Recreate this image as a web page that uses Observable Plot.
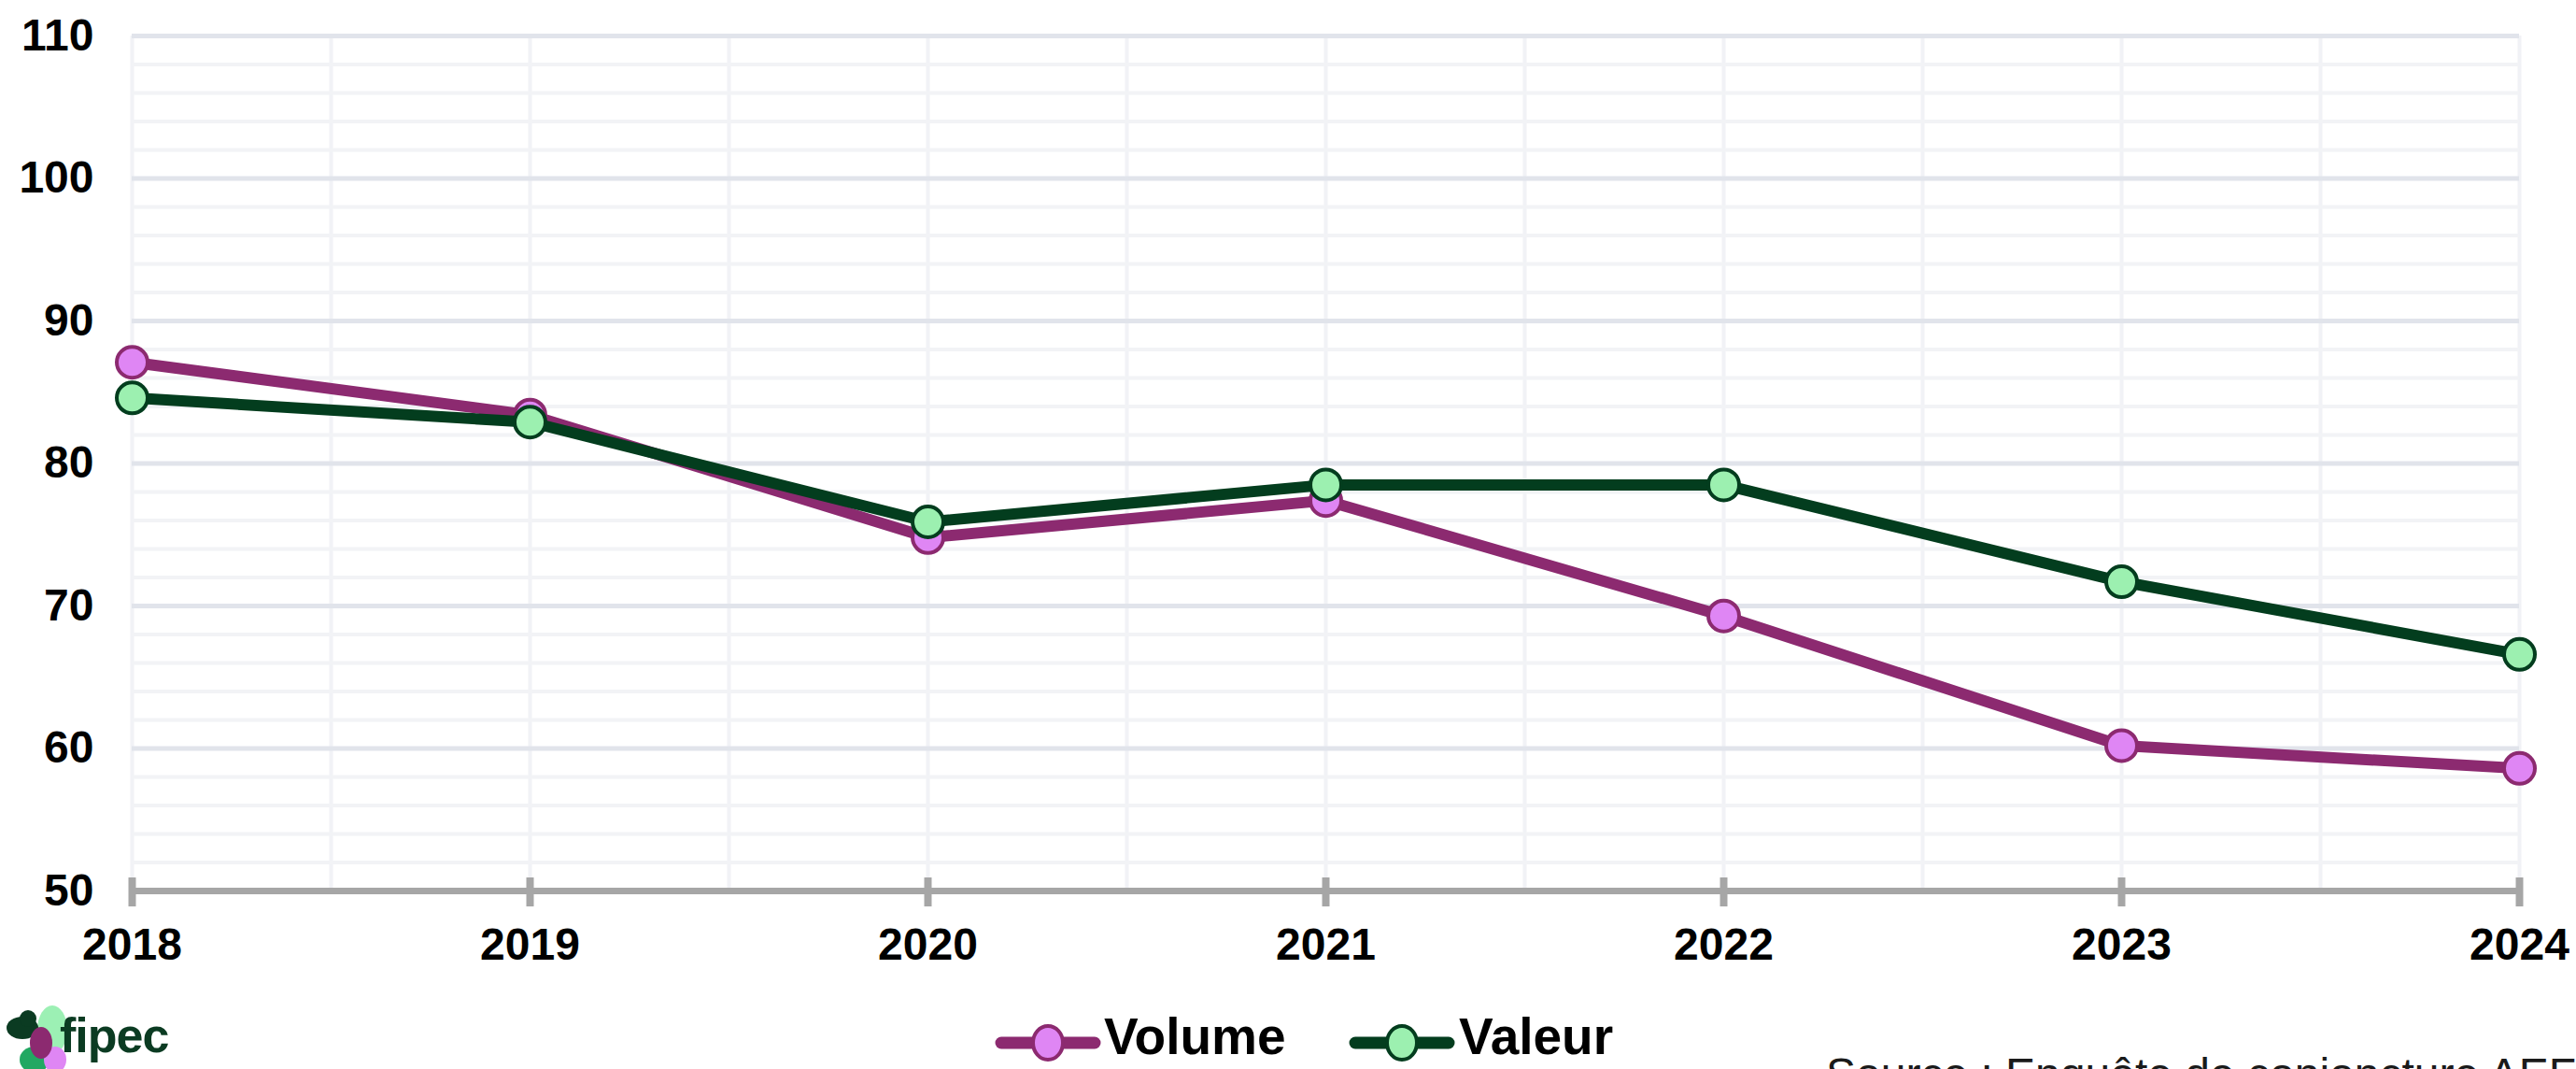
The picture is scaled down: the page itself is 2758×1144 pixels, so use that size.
<!DOCTYPE html>
<html>
<head>
<meta charset="utf-8">
<script src="https://cdn.jsdelivr.net/npm/d3@7"></script>
<script src="https://cdn.jsdelivr.net/npm/@observablehq/plot@0.6"></script>
<style>
  html, body { margin: 0; padding: 0; background: #fff; overflow: hidden; }
  body { width: 2758px; height: 1144px; position: relative; font-family: "Liberation Sans", Arial, sans-serif; }
  #chart svg { display: block; }
  #bottom { position: absolute; left: 0; top: 1060px; width: 2758px; height: 84px; overflow: hidden; }
  .leg { position: absolute; top: 24px; font-size: 55px; line-height: 50px; font-weight: bold; color: #000; white-space: nowrap; }
  .sw { position: absolute; top: 36px; }
  #source { position: absolute; left: 1955px; top: 66px; font-size: 48px; line-height: 48px; color: #1a1a1a; white-space: nowrap; }
  #logo { position: absolute; left: 0; top: 0; }
  #logotext { position: absolute; left: 64px; top: 22px; font-size: 52px; line-height: 52px; font-weight: bold; color: #0b3b22; letter-spacing: -1px; }
</style>
</head>
<body>
<div id="chart"></div>
<div id="bottom"></div>
<script>
// ---- data ----
const years = [2018, 2019, 2020, 2021, 2022, 2023, 2024];
const volume = [87.1, 83.4, 74.8, 77.4, 69.3, 60.2, 58.6];
const valeur = [84.6, 82.9, 75.9, 78.5, 78.5, 71.7, 66.6];
const seriesNames = ["Volume", "Valeur"];
const yTicks = [50, 60, 70, 80, 90, 100, 110];

const colors = {
  Volume: { stroke: "#8c2a70", fill: "#df86f4" },
  Valeur: { stroke: "#033d1e", fill: "#9cf0b0" }
};

const rows = [];
years.forEach((yr, i) => {
  rows.push({ year: yr, series: "Volume", value: volume[i] });
  rows.push({ year: yr, series: "Valeur", value: valeur[i] });
});

const yMin = yTicks[0], yMax = yTicks[yTicks.length - 1];
const minorY = d3.range(yMin, yMax + 0.001, 2).filter(v => !yTicks.includes(v));
const majorY = yTicks.filter(v => v !== yMin);
const gridX = d3.range(years[0], years[years.length - 1] + 0.001, 0.5);

const marks = [
  Plot.ruleX(gridX, { stroke: "#f1f2f6", strokeWidth: 4 }),
  Plot.ruleY(minorY, { stroke: "#f2f3f6", strokeWidth: 4 }),
  Plot.ruleY(majorY, { stroke: "#e1e4eb", strokeWidth: 5 }),
  Plot.ruleY([yMin], { stroke: "#a6a6a6", strokeWidth: 7 }),
  Plot.axisX({ ticks: years, tickSize: 31, dy: -14, stroke: "#a6a6a6", strokeWidth: 8, tickFormat: () => "", label: null }),
  Plot.axisX({ ticks: years, tickSize: 0, tickPadding: 39, tickFormat: d => String(d), fontSize: 48, fontWeight: "bold", fill: "#000", label: null }),
  Plot.axisY({ ticks: yTicks, tickSize: 0, tickPadding: 41, fontSize: 48, fontWeight: "bold", fill: "#000", label: null })
];

for (const s of seriesNames) {
  const d = rows.filter(r => r.series === s);
  marks.push(Plot.line(d, { x: "year", y: "value", stroke: colors[s].stroke, strokeWidth: 12, strokeLinejoin: "round", strokeLinecap: "round" }));
  marks.push(Plot.dot(d, { x: "year", y: "value", r: 16.5, fill: colors[s].fill, stroke: colors[s].stroke, strokeWidth: 4 }));
}

const chart = Plot.plot({
  width: 2758,
  height: 1060,
  marginLeft: 141,
  marginRight: 61,
  marginTop: 38,
  marginBottom: 107,
  x: { domain: [years[0], years[years.length - 1]] },
  y: { domain: [yMin, yMax] },
  style: { fontFamily: "'Liberation Sans', Arial, sans-serif", background: "#fff", color: "#000", overflow: "visible" },
  marks
});
document.getElementById("chart").appendChild(chart);

// ---- legend, logo, source ----
const bottom = document.getElementById("bottom");
const legendPos = { Volume: { sw: 1064, txt: 1182 }, Valeur: { sw: 1443, txt: 1562 } };
for (const s of seriesNames) {
  const sw = document.createElementNS("http://www.w3.org/2000/svg", "svg");
  sw.setAttribute("class", "sw");
  sw.setAttribute("width", 116);
  sw.setAttribute("height", 42);
  sw.style.left = legendPos[s].sw + "px";
  sw.innerHTML = `<line x1="8" y1="20" x2="108" y2="20" stroke="${colors[s].stroke}" stroke-width="13" stroke-linecap="round"/>
    <ellipse cx="58" cy="20" rx="16" ry="18" fill="${colors[s].fill}" stroke="${colors[s].stroke}" stroke-width="4"/>`;
  bottom.appendChild(sw);
  const t = document.createElement("div");
  t.className = "leg";
  t.style.left = legendPos[s].txt + "px";
  t.textContent = s;
  bottom.appendChild(t);
}

const logo = document.createElementNS("http://www.w3.org/2000/svg", "svg");
logo.setAttribute("id", "logo");
logo.setAttribute("width", 80);
logo.setAttribute("height", 84);
logo.innerHTML = `
  <ellipse cx="56" cy="42" rx="16" ry="26" fill="#9cf0b4"/>
  <ellipse cx="24" cy="40" rx="17" ry="12" fill="#0b3b22"/>
  <ellipse cx="30" cy="30" rx="9" ry="9" fill="#0b3b22"/>
  <ellipse cx="37" cy="74" rx="16" ry="14" fill="#22a862"/>
  <ellipse cx="59" cy="74" rx="12" ry="14" fill="#df86f4"/>
  <ellipse cx="44" cy="56" rx="12" ry="17" fill="#8c2a70"/>`;
bottom.appendChild(logo);
const lt = document.createElement("div");
lt.id = "logotext";
lt.textContent = "fipec";
bottom.appendChild(lt);

const src = document.createElement("div");
src.id = "source";
src.textContent = "Source : Enquête de conjoncture AEF";
bottom.appendChild(src);
</script>
</body>
</html>
